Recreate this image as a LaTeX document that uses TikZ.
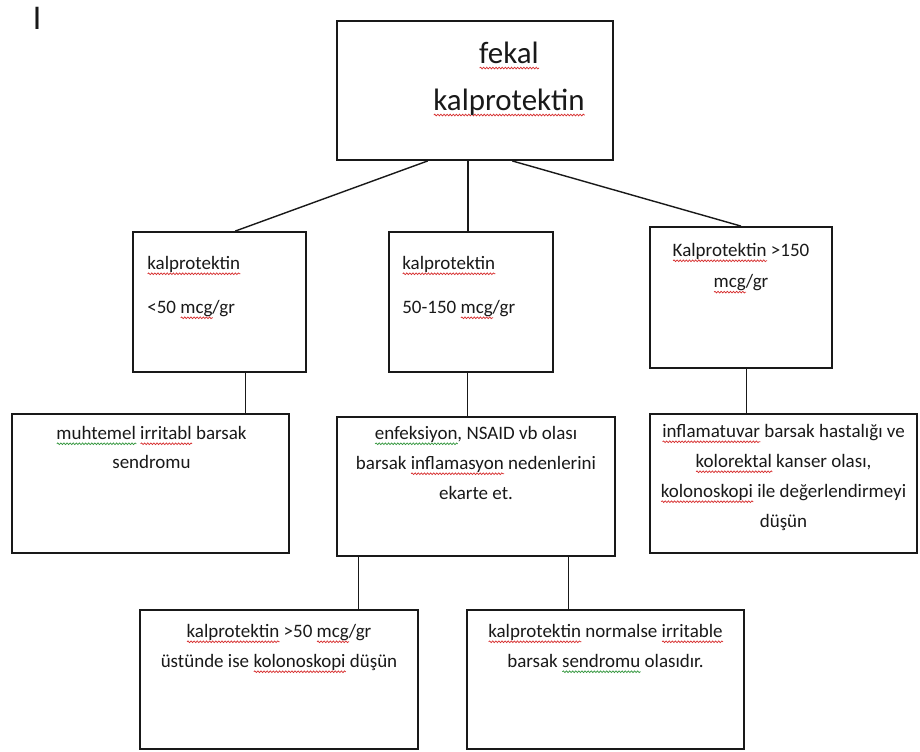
\documentclass[tikz,border=0pt]{standalone}
\usepackage{fontspec}
\setmainfont{Carlito}
\newfontfamily\caretfont{Liberation Sans}
\usetikzlibrary{positioning,fit,calc,decorations.pathmorphing}
\definecolor{ink}{RGB}{25,25,25}
\definecolor{spellred}{RGB}{215,45,45}
\definecolor{spellgreen}{RGB}{50,150,60}
\newsavebox\wavebox
\newcommand\wavyline[2]{\sbox\wavebox{#2}\rlap{\tikz[baseline=0pt]\draw[#1,line width=0.5pt,decorate,decoration={snake,amplitude=0.6pt,segment length=2.2pt}] (0pt,-3pt) -- (\wd\wavebox,-3pt);}\usebox\wavebox}
\newcommand\redwave[1]{\wavyline{spellred}{#1}}
\newcommand\greenwave[1]{\wavyline{spellgreen}{#1}}
\tikzset{
  box/.style={draw=ink,line width=1.3pt,fill=white,inner sep=0pt},
  txt/.style={font=\fontsize{13.5}{21.3}\selectfont,align=center,inner sep=0pt,text=ink},
  bigtxt/.style={font=\fontsize{22}{33.4}\selectfont,align=center,inner sep=0pt,text=ink},
  link/.style={draw=ink,line width=1pt},
  caret/.style={font=\caretfont\fontsize{23}{23}\selectfont,inner sep=0pt,text=ink},
}

\begin{document}
\begin{tikzpicture}[x=0.025cm,y=-0.025cm]
  \useasboundingbox (0,0) rectangle (920,751);
  \node[caret,anchor=base] (mark) at (37,29) {I};
  % boxes
  \node[box,fit={(337,21) (613,160)}] (top) {};
  \node[box,fit={(133,232) (306,372)}] (low) {};
  \node[box,fit={(389,232) (553,372)}] (mid) {};
  \node[box,fit={(650,227) (832,368)}] (high) {};
  \node[box,fit={(12,414) (289,553)}] (ibs) {};
  \node[box,fit={(337,417) (615,556)}] (excl) {};
  \node[box,fit={(650,414) (917,553)}] (ibd) {};
  \node[box,fit={(140,610) (418,749)}] (colo) {};
  \node[box,fit={(467,610) (744,749)}] (norm) {};
  % texts
  \node[bigtxt,anchor=north] (top-t) at ($(top.north)+(34,22)$) {\redwave{fekal}\\\redwave{kalprotektin}};
  \node[txt,anchor=north west,align=left] (low-t) at ($(low.north west)+(15,25)$) {\redwave{kalprotektin}\\[10pt]<50 \redwave{mcg}/gr};
  \node[txt,anchor=north west,align=left] (mid-t) at ($(mid.north west)+(14,25)$) {\redwave{kalprotektin}\\[10pt]50-150 \redwave{mcg}/gr};
  \node[txt,anchor=north] (high-t) at ($(high.north)+(0,17)$) {\redwave{Kalprotektin} >150\\[1pt]\redwave{mcg}/gr};
  \node[txt,anchor=north] (ibs-t) at ($(ibs.north)+(1,13)$) {\greenwave{muhtemel} \redwave{irritabl} barsak\\[-1pt]sendromu};
  \node[txt,anchor=north] (excl-t) at ($(excl.north)+(0,10)$) {\greenwave{enfeksiyon}, NSAID vb olası\\barsak \redwave{inflamasyon} nedenlerini\\ekarte et.};
  \node[txt,anchor=north] (ibd-t) at ($(ibd.north)+(0,11)$) {\redwave{inflamatuvar} barsak hastalığı ve\\\redwave{kolorektal} kanser olası,\\\redwave{kolonoskopi} ile değerlendirmeyi\\düşün};
  \node[txt,anchor=north] (colo-t) at ($(colo.north)+(0,15)$) {\redwave{kalprotektin} >50 \redwave{mcg}/gr\\üstünde ise \redwave{kolonoskopi} düşün};
  \node[txt,anchor=north] (norm-t) at ($(norm.north)+(0,15)$) {\redwave{kalprotektin} normalse \redwave{irritable}\\barsak \greenwave{sendromu} olasıdır.};
  % connectors
  \draw[link] ($(top.south west)!.33!(top.south east)$) -- ($(low.north west)!.59!(low.north east)$);
  \draw[link] ($(top.south west)!.475!(top.south east)$) coordinate (t2) -- (t2 |- mid.north);
  \draw[link] ($(top.south west)!.634!(top.south east)$) -- (high.north);
  \draw[link] ($(low.south west)!.65!(low.south east)$) coordinate (l1) -- (l1 |- ibs.north);
  \draw[link] ($(mid.south west)!.48!(mid.south east)$) coordinate (m1) -- (m1 |- excl.north);
  \draw[link] ($(high.south west)!.53!(high.south east)$) coordinate (h1) -- (h1 |- ibd.north);
  \draw[link] ($(excl.south west)!.08!(excl.south east)$) coordinate (e1) -- (e1 |- colo.north);
  \draw[link] ($(excl.south west)!.83!(excl.south east)$) coordinate (e2) -- (e2 |- norm.north);
\end{tikzpicture}
\end{document}
